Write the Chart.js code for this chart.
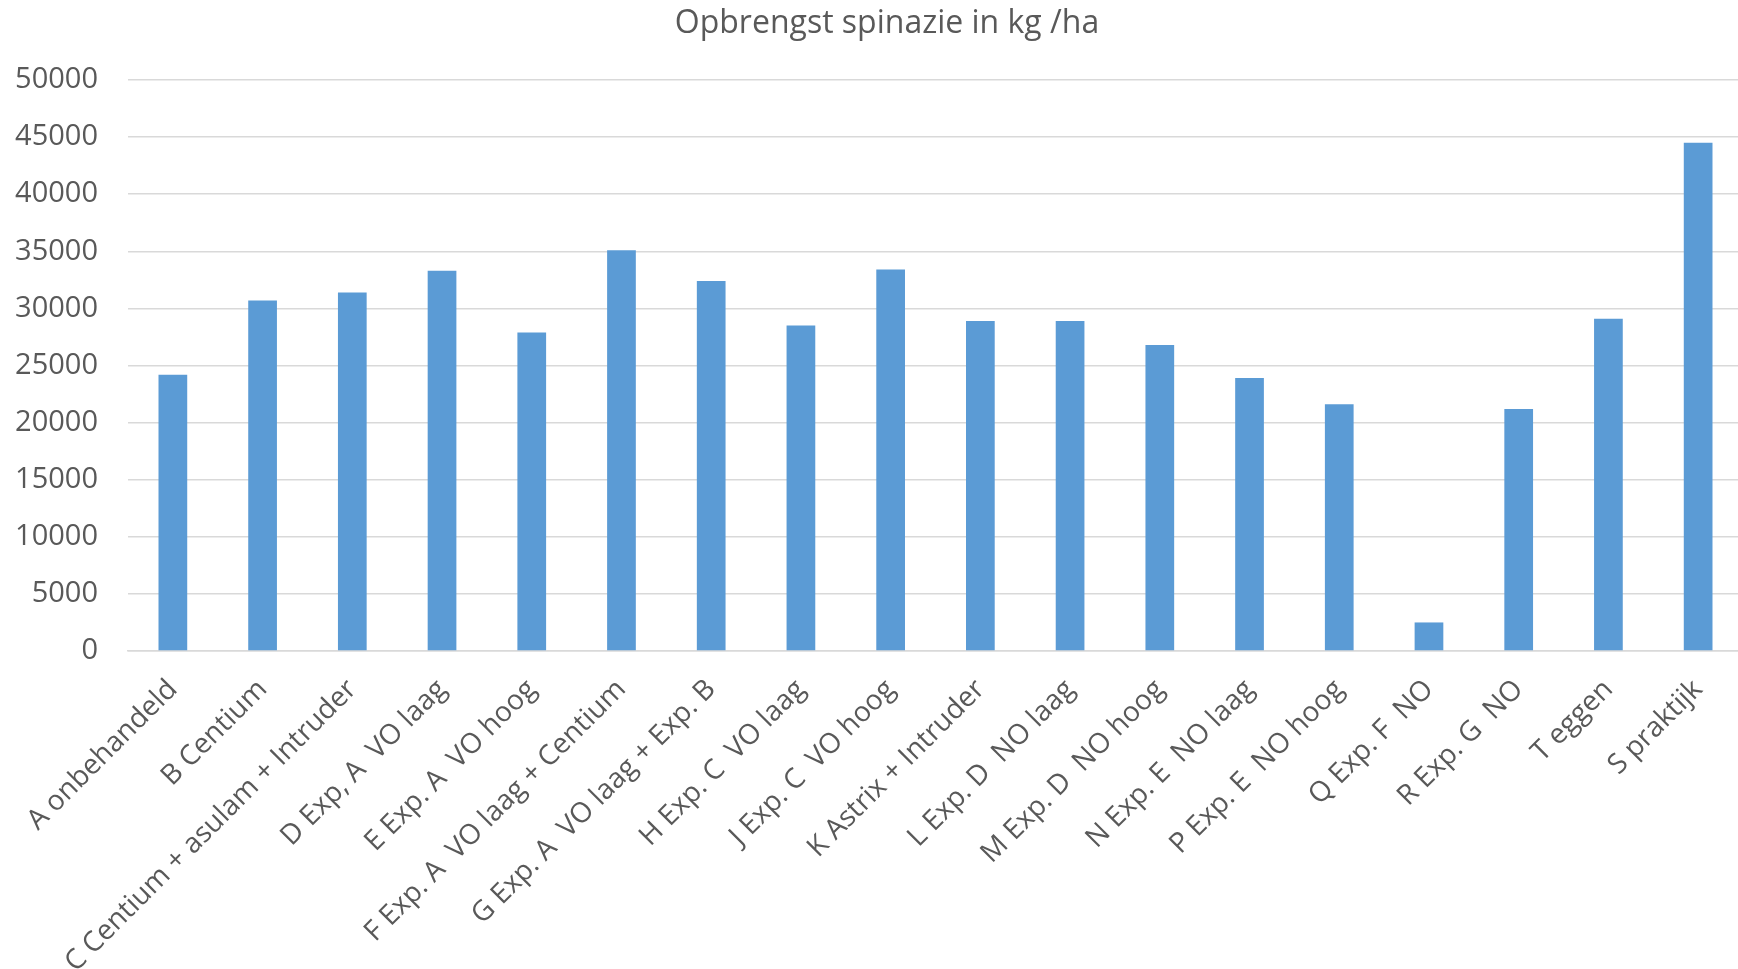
<!DOCTYPE html>
<html>
<head>
<meta charset="utf-8">
<script src="https://cdn.jsdelivr.net/npm/chart.js@4.4.1/dist/chart.umd.min.js"></script>
<style>
  html, body { margin: 0; padding: 0; background: #fff; overflow: hidden; }
  #wrap { position: relative; width: 1774px; height: 969px; }
</style>
</head>
<body>
<div id="wrap"><canvas id="chart"></canvas></div>
<script>
'use strict';

const TITLE = 'Opbrengst spinazie in kg /ha';

const categories = [
  'A onbehandeld',
  'B Centium',
  'C Centium + asulam + Intruder',
  'D Exp, A  VO laag',
  'E Exp. A  VO hoog',
  'F Exp. A  VO laag + Centium',
  'G Exp. A  VO laag + Exp. B',
  'H Exp. C  VO laag',
  'J Exp. C  VO hoog',
  'K Astrix + Intruder',
  'L Exp. D  NO laag',
  'M Exp. D  NO hoog',
  'N Exp. E  NO laag',
  'P Exp. E  NO hoog',
  'Q Exp. F  NO',
  'R Exp. G  NO',
  'T eggen',
  'S praktijk',
];

const yieldKgHa = [
  24200, 30700, 31400, 33300, 27900, 35100, 32400, 28500, 33400,
  28900, 28900, 26800, 23900, 21600, 2500, 21200, 29100, 44500,
];

const yTicks = [0, 5000, 10000, 15000, 20000, 25000, 30000, 35000, 40000, 45000, 50000];

const TEXT = '#595959';
const GRID = '#d9d9d9';
const BAR = '#5b9bd5';
const FONT = "'Open Sans', 'Liberation Sans', sans-serif";

/* ── Title drawn centred on the whole (uncropped) chart ── */
const titlePlugin = {
  id: 'centerTitle',
  afterDraw(chart) {
    const c = chart.ctx;
    c.save();
    c.fillStyle = TEXT;
    c.font = `32px ${FONT}`;
    c.textAlign = 'center';
    c.textBaseline = 'middle';
    c.fillText(TITLE, chart.width / 2, 24);
    c.restore();
  },
};

/* ── Chart ── */
const ctx = document.getElementById('chart').getContext('2d');

new Chart(ctx, {
  type: 'bar',
  data: {
    labels: categories,
    datasets: [{
      data: yieldKgHa,
      backgroundColor: BAR,
      borderWidth: 0,
      barPercentage: 1,
      categoryPercentage: 0.32,
    }],
  },
  plugins: [titlePlugin],
  options: {
    responsive: true,
    maintainAspectRatio: false,
    animation: false,
    layout: { padding: { left: 0, right: 31, top: 80, bottom: 0 } },
    plugins: {
      legend: { display: false },
      tooltip: { enabled: false },
      title: { display: false },
    },
    scales: {
      x: {
        grid: { display: false, drawTicks: false },
        border: { display: true, color: GRID, width: 1.5 },
        ticks: {
          color: TEXT,
          font: { family: FONT, size: 28 },
          minRotation: 45,
          maxRotation: 45,
          autoSkip: false,
          padding: 22,
        },
        afterFit: s => { s.height = 318; },
      },
      y: {
        min: 0,
        max: 50000,
        afterBuildTicks: s => { s.ticks = yTicks.map(v => ({ value: v })); },
        grid: { color: GRID, lineWidth: 1.5, drawTicks: false },
        border: { display: false },
        ticks: {
          color: TEXT,
          font: { family: FONT, size: 29 },
          padding: 30,
          callback: v => String(v),
        },
        afterFit: s => { s.width = 128; },
      },
    },
  },
});
</script>
</body>
</html>
